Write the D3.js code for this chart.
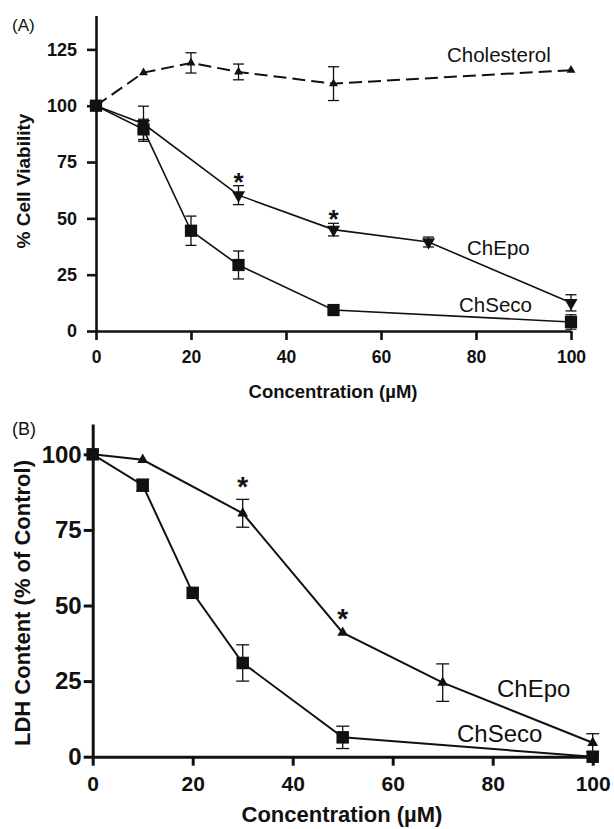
<!DOCTYPE html>
<html>
<head>
<meta charset="utf-8">
<script src="https://cdn.jsdelivr.net/npm/d3@7"></script>
<style>
  body { margin: 0; background: #fff; }
  svg text { font-family: "Liberation Sans", Arial, sans-serif; fill: #111; }
</style>
</head>
<body>
<div id="chart"></div>
<script>
// 数据 (A) 细胞活力
const cholConc = [0, 10, 20, 30, 50, 100];
const cholViab = [100, 114.7, 119, 115, 109.8, 115.8];
const cholErr = [0, 0.5, 4.5, 3.5, 7.5, 0.5];
const secoConcA = [0, 10, 20, 30, 50, 100];
const secoViab = [100, 89.5, 44.5, 29.3, 9.3, 4];
const secoErrA = [0, 4.5, 6.5, 6.2, 0.8, 3.2];
const epoConcA = [0, 10, 30, 50, 70, 100];
const epoViab = [100, 92, 60.3, 45, 39.5, 12.5];
const epoErrA = [0, 7.8, 4.2, 2.8, 2.2, 3.6];
const starsA = [30, 50];

// 数据 (B) LDH 含量
const secoConcB = [0, 10, 20, 30, 50, 100];
const secoLdh = [100, 89.8, 54.2, 31, 6.4, 0];
const secoErrB = [0, 2, 0.8, 6, 3.7, 0.5];
const epoConcB = [0, 10, 30, 50, 70, 100];
const epoLdh = [100, 98.2, 80.5, 41, 24.5, 4.6];
const epoErrB = [0, 0.5, 4.6, 0.5, 6.2, 3];
const starsB = [30, 50];

const xTicks = [0, 20, 40, 60, 80, 100];
const yTicksA = [0, 25, 50, 75, 100, 125];
const yTicksB = [0, 25, 50, 75, 100];

const svg = d3.select("#chart").append("svg")
  .attr("width", 614).attr("height", 829);

function toPts(xs, ys, es) {
  return xs.map((x, i) => ({ x, y: ys[i], e: es[i] }));
}

function drawPanel(cfg) {
  const x = d3.scaleLinear().domain([0, 100]).range(cfg.xRange);
  const y = d3.scaleLinear().domain([0, cfg.yMax]).range(cfg.yRange);
  const g = svg.append("g");

  // 坐标轴
  const xa = g.append("g")
    .attr("transform", `translate(0,${y(0)})`)
    .call(d3.axisBottom(x).tickValues(xTicks).tickSize(cfg.tick).tickSizeOuter(0).tickPadding(cfg.xPad));
  const ya = g.append("g")
    .attr("transform", `translate(${x(0)},0)`)
    .call(d3.axisLeft(y).tickValues(cfg.yTicks).tickSize(cfg.tick).tickSizeOuter(0).tickPadding(cfg.yPad));
  [xa, ya].forEach(a => {
    a.select(".domain").attr("stroke", "#111").attr("stroke-width", cfg.axisW);
    a.selectAll(".tick line").attr("stroke", "#111").attr("stroke-width", cfg.axisW);
    a.selectAll("text").attr("font-weight", "bold").attr("fill", "#111");
  });
  xa.selectAll("text").style("font-size", cfg.xTickFs + "px");
  ya.selectAll("text").style("font-size", cfg.yTickFs + "px");

  // 轴标题
  g.append("text").attr("x", cfg.xLabel[0]).attr("y", cfg.xLabel[1])
    .attr("text-anchor", "middle").attr("font-weight", "bold")
    .style("font-size", cfg.xLabelFs + "px").text("Concentration (µM)");
  g.append("text")
    .attr("transform", `translate(${cfg.yLabel[0]},${cfg.yLabel[1]}) rotate(-90)`)
    .attr("text-anchor", "middle").attr("font-weight", "bold")
    .style("font-size", cfg.yLabelFs + "px").text(cfg.yTitle);
  g.append("text").attr("x", 12).attr("y", cfg.tagY)
    .style("font-size", cfg.tagFs + "px").text(cfg.tag);

  const line = d3.line().x(d => x(d.x)).y(d => y(d.y));

  cfg.series.forEach(s => {
    g.append("path").datum(s.pts)
      .attr("fill", "none").attr("stroke", "#111")
      .attr("stroke-width", s.dash ? cfg.lineW + 0.4 : cfg.lineW)
      .attr("stroke-dasharray", s.dash || null)
      .attr("d", line);

    const eb = g.append("g").selectAll("g")
      .data(s.pts.filter(d => d.e > 0.9)).join("g");
    eb.append("line")
      .attr("x1", d => x(d.x)).attr("x2", d => x(d.x))
      .attr("y1", d => y(d.y - d.e)).attr("y2", d => y(d.y + d.e));
    eb.append("line")
      .attr("x1", d => x(d.x) - cfg.cap / 2).attr("x2", d => x(d.x) + cfg.cap / 2)
      .attr("y1", d => y(d.y + d.e)).attr("y2", d => y(d.y + d.e));
    eb.append("line")
      .attr("x1", d => x(d.x) - cfg.cap / 2).attr("x2", d => x(d.x) + cfg.cap / 2)
      .attr("y1", d => y(d.y - d.e)).attr("y2", d => y(d.y - d.e));
    eb.selectAll("line").attr("stroke", "#111").attr("stroke-width", 1.3);

    const sym = d3.symbol().type(s.shape === "square" ? d3.symbolSquare : d3.symbolTriangle).size(s.size);
    g.append("g").selectAll("path").data(s.pts).join("path")
      .attr("d", sym)
      .attr("fill", "#111")
      .attr("transform", d => `translate(${x(d.x)},${y(d.y)})${s.shape === "down" ? " rotate(180)" : ""}`);

    g.append("text").attr("x", s.label[0]).attr("y", s.label[1])
      .style("font-size", s.labelFs + "px").text(s.name);
  });

  // 显著性星号
  const sigPts = cfg.stars.map(c => cfg.starSeries.pts.find(p => p.x === c));
  g.append("g").selectAll("text").data(sigPts).join("text")
    .attr("x", d => x(d.x))
    .attr("y", d => y(d.y + d.e) - cfg.starGap + cfg.starFs * 0.57)
    .attr("text-anchor", "middle").attr("font-weight", "bold")
    .style("font-size", cfg.starFs + "px").text("*");
}

const epoA = { name: "ChEpo", shape: "down", size: 75, pts: toPts(epoConcA, epoViab, epoErrA), label: [467, 255], labelFs: 20.5 };
drawPanel({
  xRange: [96, 571], yMax: 140, yRange: [331, 15.6], yTicks: yTicksA,
  tick: 9, axisW: 2.6, lineW: 1.6, cap: 11,
  xPad: 11, yPad: 10, xTickFs: 17.5, yTickFs: 18,
  xLabel: [333, 398], xLabelFs: 18.5,
  yLabel: [30, 181], yLabelFs: 19, yTitle: "% Cell Viability",
  tag: "(A)", tagY: 31, tagFs: 17,
  series: [
    { name: "Cholesterol", shape: "up", size: 34, dash: "13,6", pts: toPts(cholConc, cholViab, cholErr), label: [447, 62], labelFs: 20.5 },
    epoA,
    { name: "ChSeco", shape: "square", size: 150, pts: toPts(secoConcA, secoViab, secoErrA), label: [459, 312], labelFs: 20.5 }
  ],
  stars: starsA, starSeries: epoA, starGap: 10, starFs: 26
});

const epoB = { name: "ChEpo", shape: "up", size: 50, pts: toPts(epoConcB, epoLdh, epoErrB), label: [497, 697], labelFs: 24 };
drawPanel({
  xRange: [92.7, 592.7], yMax: 110, yRange: [756.7, 424.1], yTicks: yTicksB,
  tick: 9, axisW: 3, lineW: 2, cap: 13,
  xPad: 10, yPad: 2, xTickFs: 21, yTickFs: 24,
  xLabel: [342, 822], xLabelFs: 22,
  yLabel: [30, 603], yLabelFs: 22, yTitle: "LDH Content (% of Control)",
  tag: "(B)", tagY: 435, tagFs: 18,
  series: [
    epoB,
    { name: "ChSeco", shape: "square", size: 156, pts: toPts(secoConcB, secoLdh, secoErrB), label: [457, 742], labelFs: 24 }
  ],
  stars: starsB, starSeries: epoB, starGap: 19, starFs: 28
});
</script>
</body>
</html>
